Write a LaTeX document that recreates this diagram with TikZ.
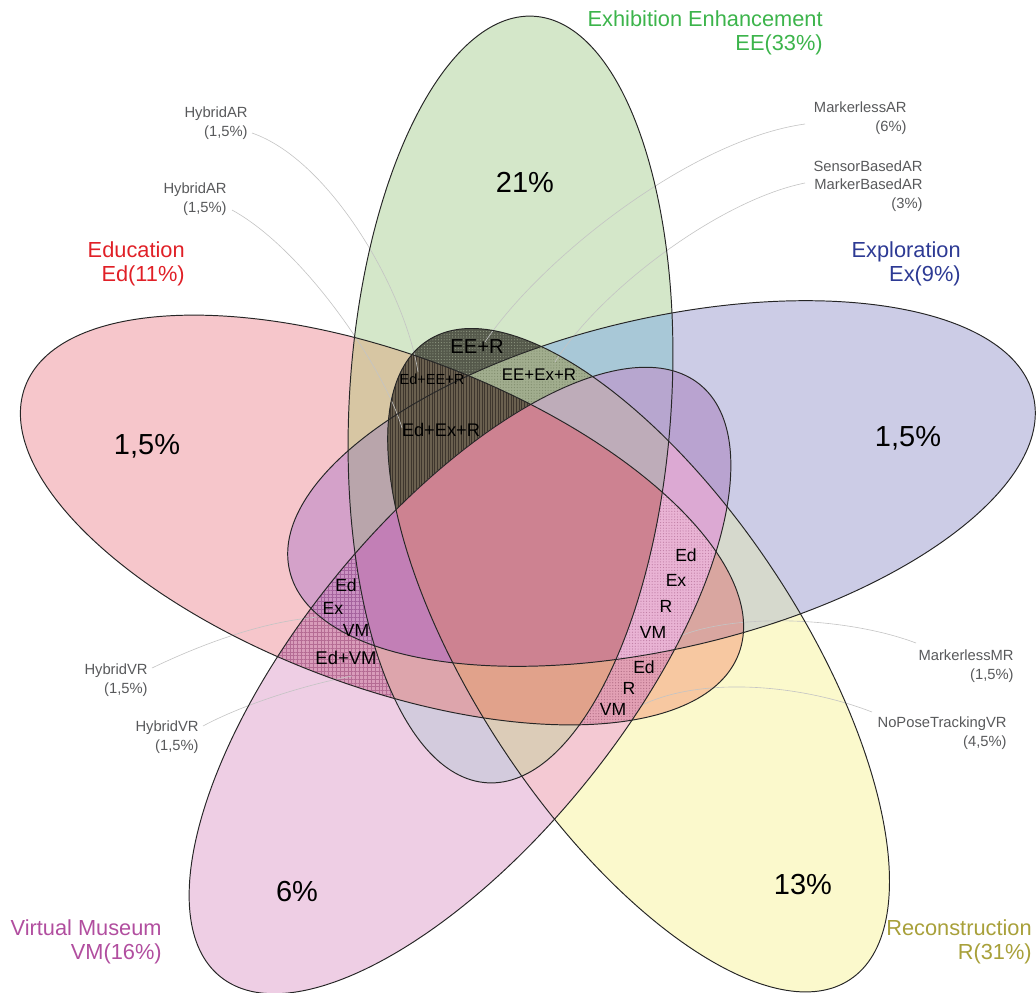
\documentclass[tikz,border=0pt]{standalone}
\usepackage{fontspec}
\setmainfont{Liberation Sans}
\usetikzlibrary{patterns.meta}
% single regions
\definecolor{rg1}{HTML}{F6C6CB}
\definecolor{rg2}{HTML}{D4E7C9}
\definecolor{rg4}{HTML}{CCCCE6}
\definecolor{rg8}{HTML}{EECEE4}
\definecolor{rg16}{HTML}{FBF9CC}
% pairs
\definecolor{rg3}{HTML}{D7C6A3}
\definecolor{rg5}{HTML}{D4A1C9}
\definecolor{rg9}{HTML}{D99CBA}
\definecolor{rg17}{HTML}{F7C8A1}
\definecolor{rg6}{HTML}{A8C8D7}
\definecolor{rg10}{HTML}{D3CBDD}
\definecolor{rg18}{HTML}{55594B}
\definecolor{rg12}{HTML}{B9A3D0}
\definecolor{rg20}{HTML}{D6D9CD}
\definecolor{rg24}{HTML}{F4C9D3}
% triples
\definecolor{rg7}{HTML}{B9A5AB}
\definecolor{rg11}{HTML}{DDA5AC}
\definecolor{rg19}{HTML}{6A604F}
\definecolor{rg13}{HTML}{CB92C2}
\definecolor{rg21}{HTML}{D9A6A0}
\definecolor{rg25}{HTML}{E2A0B4}
\definecolor{rg14}{HTML}{B7A6CF}
\definecolor{rg22}{HTML}{A1AD8E}
\definecolor{rg26}{HTML}{DCCCB8}
\definecolor{rg28}{HTML}{DCA9D3}
% quads and all
\definecolor{rg15}{HTML}{C27FB6}
\definecolor{rg23}{HTML}{6A604F}
\definecolor{rg27}{HTML}{E1A28B}
\definecolor{rg29}{HTML}{E9B3D4}
\definecolor{rg30}{HTML}{BEACB9}
\definecolor{rg31}{HTML}{CD8291}
% pattern colours
\definecolor{pt9}{HTML}{B56C94}
\definecolor{pt13}{HTML}{A5639E}
\definecolor{pt18}{HTML}{8D957F}
\definecolor{pt19}{HTML}{3E362D}
\definecolor{pt22}{HTML}{7F8C6C}
\definecolor{pt25}{HTML}{B06C84}
\definecolor{pt29}{HTML}{C07FA5}
% text colours
\definecolor{tEE}{HTML}{3CB44B}
\definecolor{tEd}{HTML}{E02027}
\definecolor{tEx}{HTML}{2D3A94}
\definecolor{tVM}{HTML}{B14E9F}
\definecolor{tR}{HTML}{A8A03A}
\definecolor{greytext}{HTML}{58595B}
\definecolor{leadgrey}{HTML}{C4C4C4}

\newcommand\clipEd{\clip[shift={(382,520)},rotate=-20.5] (0,0) ellipse [x radius=381, y radius=166];}
\newcommand\clipEE{\clip[shift={(510.5,399.5)},rotate=86.5] (0,0) ellipse [x radius=384, y radius=161];}
\newcommand\clipEx{\clip[shift={(661.5,483.5)},rotate=13.2] (0,0) ellipse [x radius=382, y radius=165];}
\newcommand\clipVM{\clip[shift={(460,680.5)},rotate=51] (0,0) ellipse [x radius=381, y radius=162];}
\newcommand\clipR{\clip[shift={(638.6,660.2)},rotate=-56.5] (0,0) ellipse [x radius=383, y radius=162];}
\newcommand\reg[2]{\begin{scope}#1\fill[#2] (-10,-10) rectangle (1046,1002);\end{scope}}
\newcommand\regp[4]{\begin{scope}#1\fill[#2] (-10,-10) rectangle (1046,1002);\fill[pattern={#3}, pattern color=#4] (-10,-10) rectangle (1046,1002);\end{scope}}

\begin{document}
\begin{tikzpicture}[x=0.02cm, y=-0.02cm,
  outline/.style={draw=black!85, line width=0.55pt},
  leader/.style={draw=leadgrey, line width=0.35pt},
  catlab/.style={font=\fontsize{12.4}{13.8}\selectfont, align=right, inner sep=0pt},
  bigpct/.style={font=\fontsize{16.5}{18}\selectfont, inner sep=0pt},
  rl/.style={font=\fontsize{10}{12}\selectfont, inner sep=0pt},
  gl/.style={font=\fontsize{8.4}{10.6}\selectfont, text=greytext, align=right, inner sep=0pt}]
\useasboundingbox (0,0) rectangle (1036,992);
\begin{scope}
\clip (0,0) rectangle (1036,992);
% singles
\reg{\clipEd}{rg1}
\reg{\clipEE}{rg2}
\reg{\clipEx}{rg4}
\reg{\clipVM}{rg8}
\reg{\clipR}{rg16}
% pairs
\reg{\clipEd\clipEE}{rg3}
\reg{\clipEd\clipEx}{rg5}
\regp{\clipEd\clipVM}{rg9}{Hatch[angle=0,distance=2.2pt,line width=0.3pt]}{pt9}
\reg{\clipEd\clipR}{rg17}
\reg{\clipEE\clipEx}{rg6}
\reg{\clipEE\clipVM}{rg10}
\regp{\clipEE\clipR}{rg18}{Dots[distance=1.6pt,radius=0.35pt]}{pt18}
\reg{\clipEx\clipVM}{rg12}
\reg{\clipEx\clipR}{rg20}
\reg{\clipVM\clipR}{rg24}
% triples
\reg{\clipEd\clipEE\clipEx}{rg7}
\reg{\clipEd\clipEE\clipVM}{rg11}
\regp{\clipEd\clipEE\clipR}{rg19}{Lines[angle=90,distance=1.5pt,line width=0.5pt]}{pt19}
\regp{\clipEd\clipEx\clipVM}{rg13}{Hatch[angle=0,distance=2.2pt,line width=0.3pt]}{pt13}
\reg{\clipEd\clipEx\clipR}{rg21}
\regp{\clipEd\clipVM\clipR}{rg25}{Dots[distance=1.6pt,radius=0.35pt]}{pt25}
\reg{\clipEE\clipEx\clipVM}{rg14}
\regp{\clipEE\clipEx\clipR}{rg22}{Dots[distance=1.6pt,radius=0.35pt]}{pt22}
\reg{\clipEE\clipVM\clipR}{rg26}
\reg{\clipEx\clipVM\clipR}{rg28}
% quads
\reg{\clipEd\clipEE\clipEx\clipVM}{rg15}
\regp{\clipEd\clipEE\clipEx\clipR}{rg23}{Lines[angle=90,distance=1.5pt,line width=0.5pt]}{pt19}
\reg{\clipEd\clipEE\clipVM\clipR}{rg27}
\regp{\clipEd\clipEx\clipVM\clipR}{rg29}{Dots[distance=1.6pt,radius=0.35pt]}{pt29}
\reg{\clipEE\clipEx\clipVM\clipR}{rg30}
% all five
\reg{\clipEd\clipEE\clipEx\clipVM\clipR}{rg31}

% leader lines
\coordinate (ha1s) at (252,133);  \coordinate (ha1e) at (418,372);
\coordinate (ha2s) at (232,210);  \coordinate (ha2e) at (402,428);
\coordinate (mars) at (805,124);  \coordinate (mare) at (485,342);
\coordinate (sbs)  at (805,183);  \coordinate (sbe)  at (555,362);
\coordinate (hv1s) at (152,668);  \coordinate (hv1e) at (318,617);
\coordinate (hv2s) at (203,726);  \coordinate (hv2e) at (352,676);
\coordinate (mmrs) at (916,643);  \coordinate (mmre) at (680,636);
\coordinate (npts) at (872,712);  \coordinate (npte) at (640,706);
\draw[leader] (ha1s) .. controls (330,160) and (405,290) .. (ha1e);
\draw[leader] (ha2s) .. controls (305,250) and (385,370) .. (ha2e);
\draw[leader] (mars) .. controls (690,140) and (540,260) .. (mare);
\draw[leader] (sbs) .. controls (720,200) and (600,290) .. (sbe);
\draw[leader] (hv1s) .. controls (200,645) and (260,622) .. (hv1e);
\draw[leader] (hv2s) .. controls (240,706) and (300,686) .. (hv2e);
\draw[leader] (mmrs) .. controls (850,618) and (740,612) .. (mmre);
\draw[leader] (npts) .. controls (800,684) and (700,676) .. (npte);

% outlines
\draw[outline, shift={(382,520)}, rotate=-20.5] (0,0) ellipse [x radius=381, y radius=166];
\draw[outline, shift={(510.5,399.5)}, rotate=86.5] (0,0) ellipse [x radius=384, y radius=161];
\draw[outline, shift={(661.5,483.5)}, rotate=13.2] (0,0) ellipse [x radius=382, y radius=165];
\draw[outline, shift={(460,680.5)}, rotate=51] (0,0) ellipse [x radius=381, y radius=162];
\draw[outline, shift={(638.6,660.2)}, rotate=-56.5] (0,0) ellipse [x radius=383, y radius=162];
\end{scope}

% category labels
\node[catlab, text=tEE, anchor=east] (lblEE) at (823,33) {Exhibition Enhancement\\EE(33\%)};
\node[catlab, text=tEd, anchor=east] (lblEd) at (185,264) {Education\\Ed(11\%)};
\node[catlab, text=tEx, anchor=east] (lblEx) at (961,264) {Exploration\\Ex(9\%)};
\node[catlab, text=tVM, anchor=east] (lblVM) at (162,942) {Virtual Museum\\VM(16\%)};
\node[catlab, text=tR, anchor=east] (lblR) at (1032,942) {Reconstruction\\R(31\%)};

% big percentages
\node[bigpct] (p21) at (525,182) {21\%};
\node[bigpct] (pEd) at (147,446) {1,5\%};
\node[bigpct] (pEx) at (908,438) {1,5\%};
\node[bigpct] (pVM) at (297,892) {6\%};
\node[bigpct] (pR) at (803,885) {13\%};

% region labels
\node[rl, font=\fontsize{11.5}{13}\selectfont] (tEER) at (477,347) {EE+R};
\node[rl, font=\fontsize{8.3}{10}\selectfont] (tEdEER) at (432,379) {Ed+EE+R};
\node[rl, font=\fontsize{9.6}{11}\selectfont] (tEEExR) at (539,375) {EE+Ex+R};
\node[rl, font=\fontsize{10.4}{12}\selectfont] (tEdExR) at (441,430) {Ed+Ex+R};
\node[rl] (lEd) at (346,585) {Ed};
\node[rl] (lEx) at (333,608) {Ex};
\node[rl] (lVM) at (356,630) {VM};
\node[rl, font=\fontsize{10.5}{12}\selectfont] (lEdVM) at (346,658) {Ed+VM};
\node[rl] (rEd) at (686,555) {Ed};
\node[rl] (rEx) at (676,580) {Ex};
\node[rl] (rR) at (666,606) {R};
\node[rl] (rVM) at (653,632) {VM};
\node[rl] (sEd) at (644,667) {Ed};
\node[rl] (sR) at (629,688) {R};
\node[rl] (sVM) at (613,709) {VM};

% grey annotation labels
\node[gl, anchor=east] (ha1) at (248,123) {HybridAR\\(1,5\%)};
\node[gl, anchor=east] (ha2) at (227,199) {HybridAR\\(1,5\%)};
\node[gl, anchor=east] (mar) at (907,118) {MarkerlessAR\\(6\%)};
\node[gl, anchor=east] (sb) at (923,186) {SensorBasedAR\\MarkerBasedAR\\(3\%)};
\node[gl, anchor=east] (hv1) at (148,680) {HybridVR\\(1,5\%)};
\node[gl, anchor=east] (hv2) at (199,737) {HybridVR\\(1,5\%)};
\node[gl, anchor=east] (mmr) at (1014,666) {MarkerlessMR\\(1,5\%)};
\node[gl, anchor=east] (npt) at (1007,733) {NoPoseTrackingVR\\(4,5\%)};
\end{tikzpicture}
\end{document}
